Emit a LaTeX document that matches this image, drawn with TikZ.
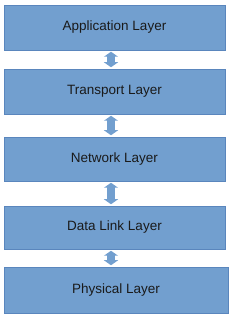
\documentclass[tikz,border=0pt]{standalone}
\usepackage{fontspec}
\setmainfont{Liberation Sans}
\usetikzlibrary{arrows.meta}
\definecolor{boxfill}{HTML}{729FCF}
\definecolor{boxline}{HTML}{5A86BD}
\definecolor{txt}{HTML}{1A1A1A}
\begin{document}
\begin{tikzpicture}[x=1pt,y=1pt,
  layerbox/.style={rectangle, fill=boxfill, draw=boxline, line width=0.5pt,
    minimum width=221pt, inner sep=0pt, text=txt,
    font=\fontsize{13.5}{16}\selectfont},
  dblarrow/.style={draw=boxfill, line width=8pt,
    {Triangle[width=14pt,length=5pt]}-{Triangle[width=14pt,length=5pt]},
    shorten <=1.5pt, shorten >=1.5pt}]
\useasboundingbox (0,0) rectangle (231,320);
\node[layerbox, minimum height=45pt] (app) at (114.5,292.5) {Application Layer};
\node[layerbox, minimum height=45pt] (tra) at (114.5,228.5) {Transport Layer};
\node[layerbox, minimum height=44pt] (net) at (114.5,161) {Network Layer};
\node[layerbox, minimum height=43pt] (dl) at (114.5,92.5) {Data Link Layer};
\node[layerbox, minimum height=46pt, minimum width=224pt] (phy) at (116,30) {Physical Layer};
\draw[dblarrow] ([xshift=-3.5pt]app.south) -- ([xshift=-3.5pt]tra.north);
\draw[dblarrow] ([xshift=-3.5pt]tra.south) -- ([xshift=-3.5pt]net.north);
\draw[dblarrow] ([xshift=-3.5pt]net.south) -- ([xshift=-3.5pt]dl.north);
\draw[dblarrow] ([xshift=-3.5pt]dl.south) -- ([xshift=-5pt]phy.north);
\end{tikzpicture}
\end{document}
